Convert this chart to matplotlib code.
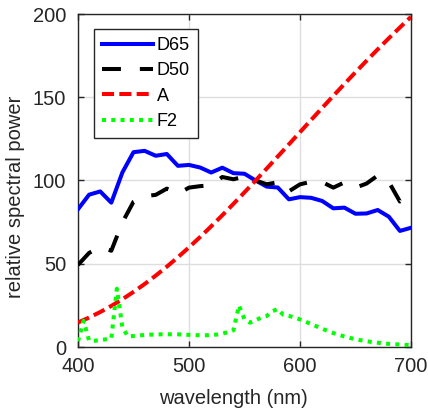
import numpy as np
import matplotlib
matplotlib.use("Agg")
import matplotlib.pyplot as plt

wl10 = list(range(400, 701, 10))
d65 = [82.75, 91.49, 93.43, 86.68, 104.86, 117.01, 117.81, 114.86, 115.92, 108.81,
       109.35, 107.80, 104.79, 107.69, 104.41, 104.05, 100.00, 96.33, 95.79, 88.69,
       90.01, 89.60, 87.70, 83.29, 83.70, 80.03, 80.21, 82.28, 78.28, 69.72, 71.61]
d50 = [49.31, 56.51, 60.03, 57.82, 74.82, 87.25, 90.61, 91.37, 95.11, 91.96,
       95.72, 96.61, 97.13, 102.10, 100.75, 102.32, 100.00, 97.74, 98.92, 93.50,
       97.69, 99.27, 99.04, 95.72, 98.86, 95.67, 98.19, 103.00, 99.13, 87.38, 91.60]
illA = [14.71, 17.68, 20.99, 24.67, 28.70, 33.09, 37.81, 42.87, 48.24, 53.91,
        59.86, 66.06, 72.50, 79.13, 85.95, 92.91, 100.00, 107.18, 114.44, 121.73,
        129.04, 136.35, 143.62, 150.84, 157.98, 165.03, 171.96, 178.77, 185.43, 191.93, 198.26]
wl5 = list(range(400, 701, 5))
f2 = [3.44, 15.69, 3.85, 3.74, 4.19, 4.62, 5.06, 34.98, 11.81, 6.27,
      6.63, 6.93, 7.19, 7.40, 7.54, 7.62, 7.65, 7.62, 7.62, 7.45,
      7.28, 7.15, 7.05, 7.04, 7.16, 7.47, 8.04, 8.88, 10.01, 24.88,
      16.64, 14.59, 16.16, 17.56, 18.62, 21.47, 22.79, 19.29, 18.66, 17.73,
      16.54, 15.21, 13.80, 12.36, 10.95, 9.65, 8.40, 7.32, 6.31, 5.43,
      4.68, 4.02, 3.45, 2.96, 2.55, 2.19, 1.89, 1.64, 1.53, 1.27, 1.10]
labels = ["D65", "D50", "A", "F2"]
xticks = [400, 500, 600, 700]
yticks = [0, 50, 100, 150, 200]

plt.rcParams['font.family'] = ['Liberation Sans', 'DejaVu Sans']
dark = '#262626'

W, H = 428, 411
fig = plt.figure(figsize=(W / 100, H / 100), dpi=100)
x0, x1, y0, y1 = 78, 411, 347, 14
ax = fig.add_axes([x0 / W, (H - y0) / H, (x1 - x0) / W, (y0 - y1) / H])
lw = 2.9
ax.plot(wl10, d65, color='#0000ff', lw=lw, ls='-', label=labels[0], zorder=3)
ax.plot(wl10, d50, color='black', lw=lw, ls=(0, (4.7, 4.7)), label=labels[1], zorder=3)
ax.plot(wl10, illA, color='#ff0000', lw=lw, ls=(0, (3.0, 1.3)), label=labels[2], zorder=3)
ax.plot(wl5, f2, color='#00ff00', lw=lw, ls=(0, (1.0, 1.3)), label=labels[3], zorder=3)

ax.set_xlim(400, 700)
ax.set_ylim(0, 200)
ax.set_xticks(xticks)
ax.set_yticks(yticks)
ax.grid(True, color='#dedede', lw=1.0)
ax.set_axisbelow(True)
ax.tick_params(direction='in', top=True, right=True, length=4, width=1,
               colors=dark, labelsize=14.5)
ax.tick_params(axis='x', pad=7)
ax.tick_params(axis='y', pad=8.5)
for s in ax.spines.values():
    s.set_color(dark)
    s.set_linewidth(1.0)
ax.set_xlabel('wavelength (nm)', fontsize=14.5, color=dark, va='center')
ax.set_ylabel('relative spectral power', fontsize=14.5, color=dark, va='center')
ax.xaxis.set_label_coords((233 - x0) / (x1 - x0), -(398.5 - y0) / (y0 - y1))
ax.yaxis.set_label_coords(-(x0 - 16) / (x1 - x0), (y0 - 197) / (y0 - y1))

leg = ax.legend(loc='upper left',
                bbox_to_anchor=((94 - x0) / (x1 - x0), 1 - (29 - y1) / (y0 - y1)),
                borderaxespad=0, fontsize=13, handlelength=2.82, handletextpad=0.22,
                labelspacing=0.46, fancybox=False, framealpha=1, edgecolor=dark,
                borderpad=0.44)
leg.get_frame().set_linewidth(1.0)

fig.savefig('out.png', dpi=100)
